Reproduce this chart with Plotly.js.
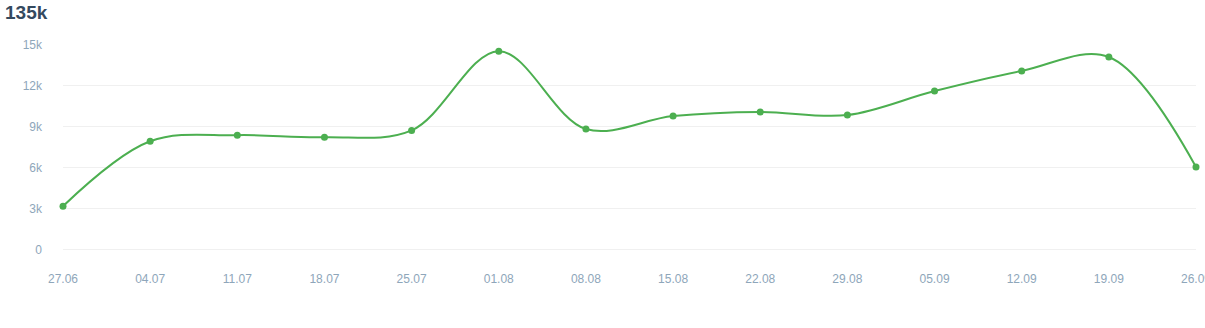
<!DOCTYPE html>
<html><head><meta charset="utf-8">
<script src="https://cdn.plot.ly/plotly-3.0.1.min.js"></script>
<style>html,body{margin:0;padding:0;background:#fff;overflow:hidden}#chart{width:1205px;height:328px}</style>
</head><body><div id="chart"></div>
<script>
const dates = ["27.06","04.07","11.07","18.07","25.07","01.08","08.08","15.08","22.08","29.08","05.09","12.09","19.09","26.09"];
const values = [3200,7950,8400,8250,8750,14550,8850,9800,10100,9870,11630,13100,14120,6070];
const yTicks = [0,3000,6000,9000,12000,15000];
const yTickLabels = ["0","3k","6k","9k","12k","15k"];
const totalLabel = "135k";

const trace = {
  x: dates.map((d,i)=>i),
  y: values,
  type: 'scatter',
  mode: 'lines+markers',
  line: {shape: 'spline', smoothing: 1, color: '#4caf50', width: 2},
  marker: {size: 7, color: '#4caf50'},
  cliponaxis: false,
  hoverinfo: 'none'
};
const layout = {
  width: 1205, height: 328,
  margin: {l: 63, r: 9, t: 45, b: 74},
  paper_bgcolor: '#fff', plot_bgcolor: '#fff',
  showlegend: false,
  font: {family: 'Liberation Sans, Arial, sans-serif', size: 12, color: '#8ea6ba'},
  annotations: [{
    text: '<b>' + totalLabel + '</b>', xref: 'paper', yref: 'paper',
    x: 0, y: 1, xanchor: 'left', yanchor: 'bottom', showarrow: false,
    xshift: -60, yshift: 20,
    font: {family: 'Liberation Sans, Arial, sans-serif', size: 19, color: '#34495e'}
  }],
  xaxis: {
    range: [0, dates.length - 1],
    tickvals: dates.map((d,i)=>i), ticktext: dates,
    showgrid: false, zeroline: false, showline: false,
    ticks: '', ticklabelstandoff: 16, ticklabeloverflow: 'allow',
    tickfont: {size: 12, color: '#8ea6ba'}
  },
  yaxis: {
    range: [-300, 15000],
    tickvals: yTicks, ticktext: yTickLabels,
    showgrid: true, gridcolor: '#f0f0f0', gridwidth: 1,
    zeroline: false, showline: false,
    ticks: '', ticklabelstandoff: 20,
    tickfont: {size: 12, color: '#8ea6ba'}
  }
};
Plotly.newPlot('chart', [trace], layout, {displayModeBar: false, staticPlot: true});
</script></body></html>
